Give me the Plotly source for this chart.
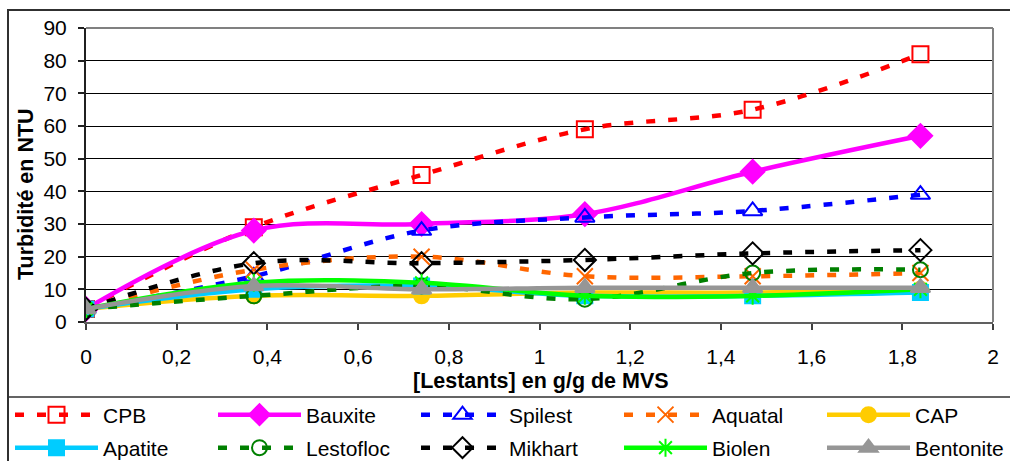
import plotly.graph_objects as go

x_vals = [0, 0.37, 0.74, 1.10, 1.47, 1.84]

names = ["CPB", "Bauxite", "Spilest", "Aquatal", "CAP",
         "Apatite", "Lestofloc", "Mikhart", "Biolen", "Bentonite"]

cpb = [4, 29, 45, 59, 65, 82]
bauxite = [4, 28, 30, 33, 46, 57]
spilest = [4, 14, 28, 32, 34, 39]
aquatal = [4, 16, 20, 14, 14, 15]
cap = [4, 8, 8, 9, 9, 10]
apatite = [4, 10, 11, 8, 8, 9]
lestofloc = [4, 8, 11, 7, 15, 16]
mikhart = [4, 18, 18, 19, 21, 22]
biolen = [4, 12, 12, 8, 8, 10]
bentonite = [4, 11, 10, 10.5, 10.5, 10.5]

series = [cpb, bauxite, spilest, aquatal, cap, apatite, lestofloc, mikhart, biolen, bentonite]

colors = ["#FF0000", "#FF00FF", "#0000FF", "#FF6600", "#FFCC00",
          "#00CCFF", "#008000", "#000000", "#00FF00", "#969696"]
dashes = ["9px,13px", "solid", "9px,13px", "9px,13px", "solid",
          "solid", "9px,13px", "9px,13px", "solid", "solid"]
symbols = ["square-open", "diamond", "triangle-up-open", "x-thin-open", "circle",
           "square", "circle-open", "diamond-open", "asterisk-open", "triangle-up"]
sizes = [16, 18, 17, 16, 15, 15, 15, 17, 15, 17]
legend_ids = ["legend", "legend", "legend", "legend", "legend3",
              "legend2", "legend2", "legend2", "legend2", "legend4"]

FONT = "Liberation Sans, Arial, sans-serif"
FS = 21

W, H = 1010, 461
L, R, T, B = 86, 17, 28, 139
PW, PH = W - L - R, H - T - B


def px_x(p):
    return (p - L) / PW


def px_y(p):
    return 1 - (p - T) / PH


fig = go.Figure()
for i, (nm, ys) in enumerate(zip(names, series)):
    fig.add_trace(go.Scatter(
        x=x_vals, y=ys, name=nm, mode="lines+markers",
        line=dict(color=colors[i], width=4.5, dash=dashes[i], shape="spline", smoothing=1),
        marker=dict(symbol=symbols[i], size=sizes[i], color=colors[i],
                    line=dict(color=colors[i], width=2)),
        legend=legend_ids[i],
        legendwidth=105,
    ))

legend_common = dict(
    orientation="h", xanchor="left", yanchor="middle",
    font=dict(family=FONT, size=FS, color="#000000"),
    itemwidth=83, entrywidthmode="pixels",
    bgcolor="rgba(0,0,0,0)", borderwidth=0,
)

fig.update_layout(
    width=W, height=H,
    margin=dict(l=L, r=R, t=T, b=B, pad=0, autoexpand=False),
    paper_bgcolor="white", plot_bgcolor="white",
    separators=",.",
    font=dict(family=FONT, size=FS, color="#000000"),
    showlegend=True,
    legend=dict(x=px_x(10), y=px_y(415), **legend_common),
    legend2=dict(x=px_x(10), y=px_y(448), **legend_common),
    legend3=dict(x=px_x(822), y=px_y(415), **legend_common),
    legend4=dict(x=px_x(822), y=px_y(448), **legend_common),
    xaxis=dict(
        range=[0, 2], dtick=0.2, tick0=0, showgrid=False, zeroline=False,
        showline=True, linecolor="#606060", linewidth=2,
        ticks="outside", ticklen=6, tickcolor="#404040", tickwidth=1.5,
        ticklabelstandoff=9,
        tickfont=dict(family=FONT, size=FS, color="#000000"),
    ),
    yaxis=dict(
        range=[0, 90], dtick=10, tick0=0, showgrid=True, gridcolor="#000000", gridwidth=1,
        zeroline=False, showline=True, linecolor="#202020", linewidth=2,
        ticks="outside", ticklen=6, tickcolor="#202020", tickwidth=1.5,
        ticklabelstandoff=7,
        tickfont=dict(family=FONT, size=FS, color="#000000"),
    ),
    annotations=[
        dict(text="<b>Turbidité en NTU</b>", textangle=-90, xref="paper", yref="paper",
             x=px_x(26), y=px_y(194), xanchor="center", yanchor="middle", showarrow=False,
             font=dict(family=FONT, size=21.5, color="#000000")),
        dict(text="<b>[Lestants] en g/g de MVS</b>", xref="paper", yref="paper",
             x=px_x(541), y=px_y(381), xanchor="center", yanchor="middle", showarrow=False,
             font=dict(family=FONT, size=21.5, color="#000000")),
    ],
    shapes=[
        dict(type="line", xref="paper", yref="paper", x0=0, x1=1, y0=1, y1=1,
             line=dict(color="#808080", width=2)),
        dict(type="line", xref="paper", yref="paper", x0=1, x1=1, y0=0, y1=1,
             line=dict(color="#808080", width=2)),
        dict(type="rect", xref="paper", yref="paper", x0=px_x(8), x1=px_x(1020),
             y0=px_y(475), y1=px_y(10), line=dict(color="#303030", width=2), layer="below"),
        dict(type="line", xref="paper", yref="paper", x0=px_x(8), x1=px_x(1020),
             y0=px_y(397), y1=px_y(397), line=dict(color="#303030", width=1.5)),
    ],
)

fig.write_html("out.html")
